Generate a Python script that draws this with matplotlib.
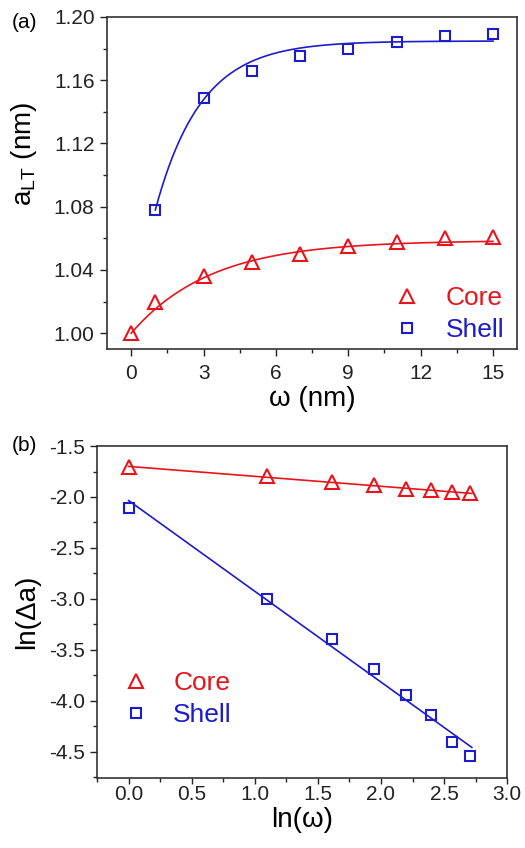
import matplotlib
matplotlib.use("Agg")
import matplotlib.pyplot as plt
import numpy as np
from matplotlib.ticker import MultipleLocator, FormatStrFormatter

plt.rcParams['font.family'] = ['Liberation Sans', 'DejaVu Sans']
plt.rcParams['mathtext.fontset'] = 'custom'
plt.rcParams['mathtext.rm'] = 'Liberation Sans'
plt.rcParams['axes.unicode_minus'] = False

RED = '#e8141c'
BLUE = '#1c1ccc'

# panel (a): lattice parameter vs thickness
w_core = [0, 1, 3, 5, 7, 9, 11, 13, 15]
a_core = [1.000, 1.020, 1.036, 1.045, 1.050, 1.055, 1.058, 1.060, 1.061]
w_shell = [1, 3, 5, 7, 9, 11, 13, 15]
a_shell = [1.078, 1.149, 1.166, 1.175, 1.180, 1.184, 1.188, 1.189]

# exponential fit parameters  a = A - B*exp(-w/t)
fit_core = (1.0587, 0.0587, 3.3)
fit_shell = (1.1848, 0.1813, 1.89)

# panel (b): log-log
lnw_core = [0.0, 1.099, 1.609, 1.946, 2.197, 2.398, 2.565, 2.708]
lnda_core = [-1.709, -1.794, -1.853, -1.886, -1.919, -1.935, -1.955, -1.965]
lnw_shell = [0.0, 1.099, 1.609, 1.946, 2.197, 2.398, 2.565, 2.708]
lnda_shell = [-2.105, -2.998, -3.397, -3.692, -3.944, -4.140, -4.405, -4.543]

fig = plt.figure(figsize=(5.25, 8.48), dpi=100)
ax1 = fig.add_axes([0.204, 0.5884, 0.781, 0.3916])
ax2 = fig.add_axes([0.185, 0.0825, 0.781, 0.3915])


def style(ax):
    for s in ax.spines.values():
        s.set_linewidth(1.2)
        s.set_color('#333333')
    ax.tick_params(which='both', direction='out', top=False, right=False,
                   width=1.0, labelsize=15, colors='#222222')
    ax.tick_params(which='major', length=5, pad=4)
    ax.tick_params(which='minor', length=3)


# ---- (a)
wf = np.linspace(0, 15, 200)
A, B, t = fit_core
ax1.plot(wf, A - B * np.exp(-wf / t), color=RED, lw=1.2)
wf = np.linspace(1, 15, 200)
A, B, t = fit_shell
ax1.plot(wf, A - B * np.exp(-wf / t), color=BLUE, lw=1.2)
ax1.plot(w_core, a_core, '^', ms=10, mfc='none', mec=RED, mew=1.5, label='Core')
ax1.plot(w_shell, a_shell, 's', ms=7, mfc='none', mec=BLUE, mew=1.5, label='Shell')
ax1.set_xlim(-1, 16)
ax1.set_ylim(0.99, 1.20)
ax1.xaxis.set_major_locator(MultipleLocator(3))
ax1.xaxis.set_minor_locator(MultipleLocator(1.5))
ax1.yaxis.set_major_locator(MultipleLocator(0.04))
ax1.yaxis.set_minor_locator(MultipleLocator(0.02))
ax1.yaxis.set_major_formatter(FormatStrFormatter('%.2f'))
style(ax1)
ax1.tick_params(axis='x', which='major', pad=6)
ax1.set_xlabel('ω (nm)', fontsize=20, labelpad=2)
ax1.set_ylabel('a$_{\\rm LT}$ (nm)', fontsize=20)
ax1.yaxis.set_label_coords(-0.166, 0.587)
ax1.legend(loc='center left', bbox_to_anchor=(0.668, 0.105), frameon=False,
           fontsize=19, borderpad=0, handlelength=1.0, handletextpad=0.95,
           labelspacing=0.3, labelcolor='markeredgecolor')
fig.text(0.022, 0.973, '(a)', fontsize=15, va='center', ha='left')

# ---- (b)
lx = np.array([0.0, 2.72])
pc = np.polyfit(lnw_core, lnda_core, 1)
ps = np.polyfit(lnw_shell, lnda_shell, 1)
ax2.plot(lx, np.polyval(pc, lx), color=RED, lw=1.2)
ax2.plot(lx, np.polyval(ps, lx), color=BLUE, lw=1.2)
ax2.plot(lnw_core, lnda_core, '^', ms=10, mfc='none', mec=RED, mew=1.5, label='Core')
ax2.plot(lnw_shell, lnda_shell, 's', ms=7, mfc='none', mec=BLUE, mew=1.5, label='Shell')
ax2.set_xlim(-0.25, 3.0)
ax2.set_ylim(-4.76, -1.5)
ax2.xaxis.set_major_locator(MultipleLocator(0.5))
ax2.xaxis.set_minor_locator(MultipleLocator(0.25))
ax2.yaxis.set_major_locator(MultipleLocator(0.5))
ax2.yaxis.set_minor_locator(MultipleLocator(0.25))
ax2.xaxis.set_major_formatter(FormatStrFormatter('%.1f'))
ax2.yaxis.set_major_formatter(FormatStrFormatter('%.1f'))
style(ax2)
ax2.tick_params(axis='x', which='major', length=4, pad=1)
ax2.set_xlabel('ln(ω)', fontsize=20, labelpad=2)
ax2.set_ylabel('ln(Δa)', fontsize=20, labelpad=6)
ax2.legend(loc='center left', bbox_to_anchor=(0.031, 0.238), frameon=False,
           fontsize=19, borderpad=0, handlelength=1.0, handletextpad=0.9,
           labelspacing=0.3, labelcolor='markeredgecolor')
fig.text(0.022, 0.475, '(b)', fontsize=15, va='center', ha='left')

fig.savefig('out.png', dpi=100)
